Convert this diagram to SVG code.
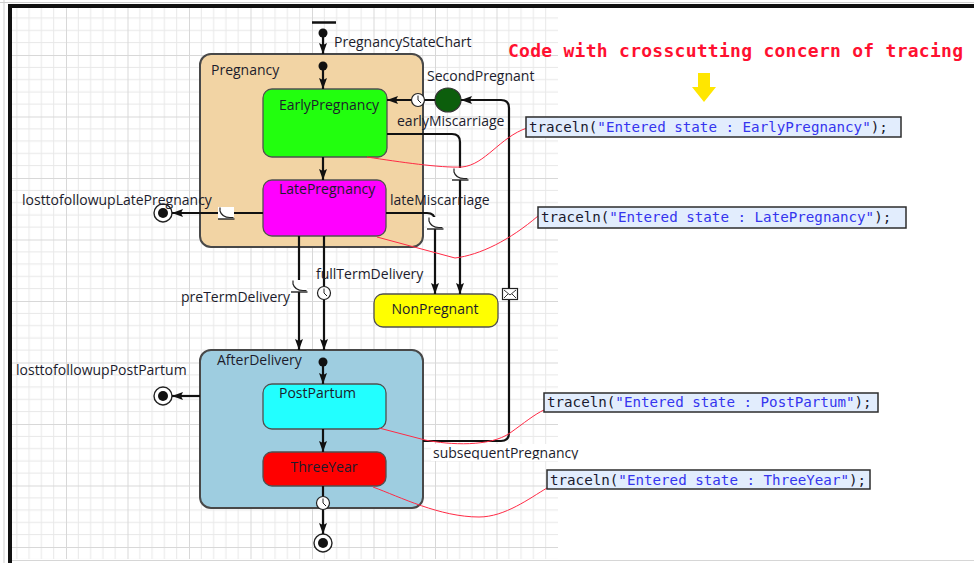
<svg xmlns="http://www.w3.org/2000/svg" width="974" height="563" viewBox="0 0 974 563">
  <style>
    .lbl { font-family: "Open Sans", "Liberation Sans", sans-serif; font-size: 14px; fill: #1c1c2c; }
    .state { stroke: #505050; stroke-width: 1.3; }
    .comp { stroke: #484848; stroke-width: 2; }
    .tr { fill: none; stroke: #111; stroke-width: 2.2; }
    .arr { marker-end: url(#ah); }
    .note { fill: none; stroke: #ff2a45; stroke-width: 1; }
    .code { font-family: "DejaVu Sans Mono", "Liberation Mono", monospace; font-size: 14.2px; fill: #1a1a2e; }
    .str { fill: #3535ee; }
    .codebox { fill: #e2edfd; stroke: #2c2c2c; stroke-width: 1.5; }
  </style>
  <defs>
    <pattern id="grid" patternUnits="userSpaceOnUse" x="4.5" y="-6.5" width="61.5" height="61.5">
      <path d="M12.3 0V61.5M24.6 0V61.5M36.9 0V61.5M49.2 0V61.5M0 12.3H61.5M0 24.6H61.5M0 36.9H61.5M0 49.2H61.5" stroke="#e8e8e8" stroke-width="1" fill="none"/>
      <path d="M0.5 0V61.5M0 0.5H61.5" stroke="#d8d8d8" stroke-width="1" fill="none"/>
    </pattern>
    <marker id="ah" markerUnits="userSpaceOnUse" viewBox="0 0 11 8" refX="11" refY="4" markerWidth="11" markerHeight="8" orient="auto">
      <path d="M0 0L11 4L0 8L2 4z" fill="#111"/>
    </marker>
    <symbol id="clock" viewBox="-8 -8 16 16" overflow="visible">
      <circle r="6.5" fill="#fff" stroke="#222" stroke-width="1.2"/>
      <path d="M0 -4.5V0L3 3" fill="none" stroke="#222" stroke-width="1"/>
    </symbol>
    <symbol id="rate" viewBox="-9 -7 18 14" overflow="visible">
      <rect x="-8" y="-6" width="16" height="12" fill="#fff"/>
      <path d="M-6 -5.5V-2Q-4 4.5 4 4.5H7.5" fill="none" stroke="#222" stroke-width="1.2"/>
      <path d="M-8 6H8.5" stroke="#222" stroke-width="1.4"/>
    </symbol>
    <symbol id="msg" viewBox="-9 -7 18 14" overflow="visible">
      <rect x="-7.5" y="-5.5" width="15" height="11" fill="#fff" stroke="#222" stroke-width="1.2"/>
      <path d="M-6 -4L0 1L6 -4M-6 4L-2 0M6 4L2 0" fill="none" stroke="#222" stroke-width="0.9"/>
    </symbol>
    <clipPath id="clipSub">
      <rect x="431" y="444" width="160" height="15.5"/>
    </clipPath>
  </defs>

  <!-- canvas -->
  <rect width="974" height="563" fill="#fff"/>
  <rect x="12" y="8" width="546" height="551" fill="url(#grid)"/>
  <rect x="431" y="444" width="127" height="17" fill="#fff"/>
  <path d="M4 0V563M0 2.5H974" stroke="#cfcfcf" stroke-width="1"/>
  <path d="M12 560.5H974" stroke="#d6d6d6" stroke-width="1"/>
  <rect x="8" y="4" width="966" height="4" fill="#111"/>
  <rect x="8" y="4" width="4" height="559" fill="#111"/>

  <!-- composite states -->
  <g id="Pregnancy">
    <rect class="comp" x="200" y="54" width="223" height="193" rx="11" fill="#f2d4a4"/>
    <text class="lbl" x="211" y="75">Pregnancy</text>
  </g>
  <g id="AfterDelivery">
    <rect class="comp" x="200" y="350" width="223" height="158" rx="11" fill="#9ecde0"/>
    <text class="lbl" x="217" y="365">AfterDelivery</text>
  </g>

  <!-- simple states -->
  <g id="EarlyPregnancy">
    <rect class="state" x="263" y="89" width="124" height="68" rx="9" fill="#22ff0e"/>
    <text class="lbl" x="279" y="110">EarlyPregnancy</text>
  </g>
  <g id="LatePregnancy">
    <rect class="state" x="263" y="180" width="123" height="56" rx="9" fill="#ff00ff"/>
    <text class="lbl" x="279" y="194">LatePregnancy</text>
  </g>
  <g id="NonPregnant">
    <rect class="state" x="374" y="294" width="124" height="33" rx="9" fill="#ffff00"/>
    <text class="lbl" x="435" y="314" text-anchor="middle">NonPregnant</text>
  </g>
  <g id="PostPartum">
    <rect class="state" x="263" y="384" width="123" height="45" rx="9" fill="#22ffff"/>
    <text class="lbl" x="279" y="398">PostPartum</text>
  </g>
  <g id="ThreeYear">
    <rect class="state" x="263" y="452" width="123" height="34" rx="9" fill="#ff0000"/>
    <text class="lbl" x="324" y="472" text-anchor="middle">ThreeYear</text>
  </g>
  <g id="SecondPregnant">
    <ellipse cx="448" cy="100" rx="13" ry="12" fill="#0c5e0c" stroke="#333" stroke-width="1.2"/>
    <text class="lbl" x="427" y="81">SecondPregnant</text>
  </g>

  <!-- pseudo states -->
  <g id="StatechartEntry">
    <path d="M312 22.5H336" stroke="#111" stroke-width="2.5"/>
    <circle cx="323" cy="33" r="4.5" fill="#111"/>
    <text class="lbl" x="334" y="47">PregnancyStateChart</text>
  </g>
  <g id="PregnancyInitial">
    <circle cx="323" cy="66" r="4.5" fill="#111"/>
  </g>
  <g id="AfterDeliveryInitial">
    <circle cx="323" cy="362" r="4.5" fill="#111"/>
  </g>
  <g id="FinalLatePregnancy">
    <circle cx="163" cy="213" r="9" fill="#fff" stroke="#222" stroke-width="1.4"/>
    <circle cx="163" cy="213" r="5" fill="#111"/>
  </g>
  <g id="FinalPostPartum">
    <circle cx="163" cy="396" r="9" fill="#fff" stroke="#222" stroke-width="1.4"/>
    <circle cx="163" cy="396" r="5" fill="#111"/>
  </g>
  <g id="FinalThreeYear">
    <circle cx="323" cy="543" r="9" fill="#fff" stroke="#222" stroke-width="1.4"/>
    <circle cx="323" cy="543" r="5" fill="#111"/>
  </g>

  <!-- transitions -->
  <g id="transitions">
    <path class="tr arr" d="M323 33V54"/>
    <path class="tr arr" d="M323 66V89"/>
    <path class="tr arr" d="M323 157V180"/>
    <path class="tr arr" d="M435 100H387"/>
    <use href="#clock" x="410" y="92" width="16" height="16"/>
    <path class="tr arr" d="M423 441H501Q509 441 509 433V108Q509 100 501 100H461"/>
    <use href="#msg" x="501" y="287" width="18" height="14"/>
    <path class="tr arr" d="M387 134H452Q460 134 460 142V294"/>
    <use href="#rate" x="451" y="167" width="18" height="14"/>
    <text class="lbl" x="397" y="126">earlyMiscarriage</text>
    <path class="tr arr" d="M386 213H427Q435 213 435 221V294"/>
    <use href="#rate" x="426" y="216" width="18" height="14"/>
    <text class="lbl" x="390" y="205">lateMiscarriage</text>
    <path class="tr arr" d="M263 213H172"/>
    <use href="#rate" x="217" y="206" width="18" height="14"/>
    <text class="lbl" x="22" y="205">losttofollowupLatePregnancy</text>
    <path class="tr arr" d="M299 236V350"/>
    <use href="#rate" x="290" y="279" width="18" height="14"/>
    <text class="lbl" x="181" y="302">preTermDelivery</text>
    <path class="tr arr" d="M324 236V350"/>
    <use href="#clock" x="316" y="285" width="16" height="16"/>
    <text class="lbl" x="316" y="279">fullTermDelivery</text>
    <path class="tr arr" d="M323 362V384"/>
    <path class="tr arr" d="M323 429V452"/>
    <path class="tr arr" d="M323 486V534"/>
    <use href="#clock" x="315" y="495" width="16" height="16"/>
    <path class="tr arr" d="M200 396H172"/>
    <text class="lbl" x="16" y="375">losttofollowupPostPartum</text>
    <text class="lbl" x="433" y="458" clip-path="url(#clipSub)">subsequentPregnancy</text>
  </g>

  <!-- entry action notes -->
  <g id="note-links">
    <path class="note" d="M367 157C400 162 440 168 462 167C485 165 500 137 527 128"/>
    <path class="note" d="M377 237L455 258C480 255 510 240 538 216"/>
    <path class="note" d="M379 428L425 440C450 445 490 447 510 433C524 423 535 414 544 410"/>
    <path class="note" d="M373 487C400 497 440 517 479 517C505 517 530 498 547 488"/>
  </g>

  <g id="title">
    <text x="508" y="57" font-family="'DejaVu Sans Mono', 'Liberation Mono', monospace" font-weight="bold" font-size="18" fill="#ff1030" textLength="455">Code with crosscutting concern of tracing</text>
    <polygon points="698,73 710,73 710,87 716,87 704,102 692,87 698,87" fill="#ffe600"/>
  </g>

  <g id="code-EarlyPregnancy">
    <rect class="codebox" x="526" y="117" width="375" height="20"/>
    <text class="code" x="529" y="132">traceln(<tspan class="str">"Entered state : EarlyPregnancy"</tspan>);</text>
  </g>
  <g id="code-LatePregnancy">
    <rect class="codebox" x="538" y="207" width="368" height="21"/>
    <text class="code" x="541" y="222">traceln(<tspan class="str">"Entered state : LatePregnancy"</tspan>);</text>
  </g>
  <g id="code-PostPartum">
    <rect class="codebox" x="544" y="393" width="334" height="19"/>
    <text class="code" x="547" y="407">traceln(<tspan class="str">"Entered state : PostPartum"</tspan>);</text>
  </g>
  <g id="code-ThreeYear">
    <rect class="codebox" x="547" y="470" width="323" height="19"/>
    <text class="code" x="550" y="485">traceln(<tspan class="str">"Entered state : ThreeYear"</tspan>);</text>
  </g>
</svg>
